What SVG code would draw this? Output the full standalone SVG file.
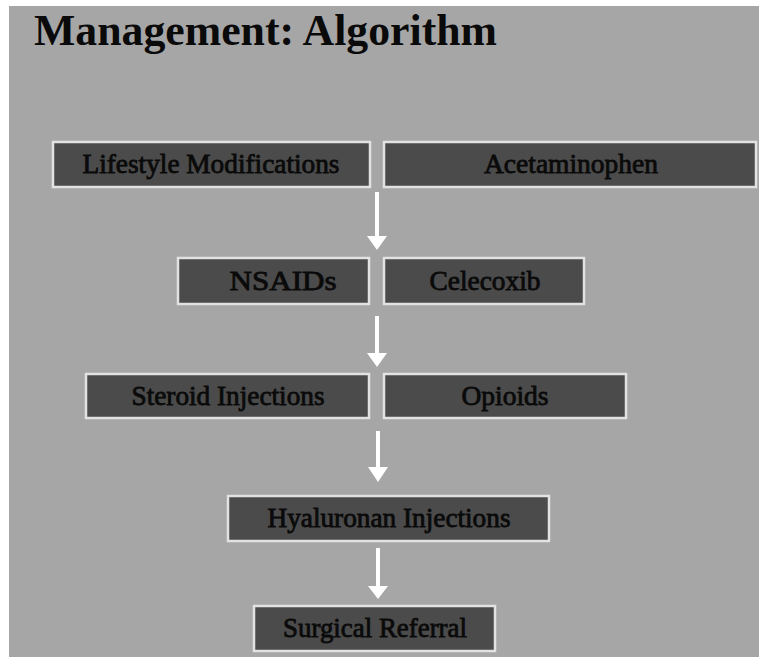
<svg xmlns="http://www.w3.org/2000/svg" width="759" height="657" viewBox="0 0 759 657">
<style>
.box{fill:#4b4b4b;stroke:#e2e2e2;stroke-width:2.5}
.lbl{font-family:"Liberation Serif","Times New Roman",serif;font-size:27px;fill:#0a0a0a;stroke:#0a0a0a;stroke-width:0.8;text-anchor:middle}
.arr{stroke:#ffffff;stroke-width:4;fill:none}
.head{fill:#ffffff}
</style>
<rect x="0" y="0" width="759" height="657" fill="#ffffff"/>
<rect x="9" y="6" width="750" height="651" fill="#a6a6a6"/>
<text x="34" y="45" font-family="'Liberation Serif','Times New Roman',serif" font-size="44" font-weight="bold" fill="#0a0a0a" textLength="463" lengthAdjust="spacingAndGlyphs">Management: Algorithm</text>
<g id="connectors">
<line class="arr" x1="377" y1="192" x2="377" y2="238"/>
<polygon class="head" points="367,236 387,236 377,250"/>
<line class="arr" x1="377" y1="316" x2="377" y2="355"/>
<polygon class="head" points="367,353 387,353 377,367"/>
<line class="arr" x1="378" y1="431" x2="378" y2="469"/>
<polygon class="head" points="368,467 388,467 378,482"/>
<line class="arr" x1="378" y1="548" x2="378" y2="589"/>
<polygon class="head" points="368,586 388,586 378,599"/>
</g>
<g id="lifestyle"><rect class="box" x="53" y="142" width="317" height="45"/><text class="lbl" x="211" y="173" textLength="257" lengthAdjust="spacingAndGlyphs">Lifestyle Modifications</text></g>
<g id="acetaminophen"><rect class="box" x="384" y="142" width="372" height="45"/><text class="lbl" x="571" y="173" textLength="174" lengthAdjust="spacingAndGlyphs">Acetaminophen</text></g>
<g id="nsaids"><rect class="box" x="178" y="258" width="191" height="46"/><text class="lbl" x="283" y="290" textLength="107" lengthAdjust="spacingAndGlyphs">NSAIDs</text></g>
<g id="celecoxib"><rect class="box" x="384" y="258" width="200" height="46"/><text class="lbl" x="485" y="290" textLength="111" lengthAdjust="spacingAndGlyphs">Celecoxib</text></g>
<g id="steroid"><rect class="box" x="86" y="374" width="283" height="44"/><text class="lbl" x="228" y="405" textLength="193" lengthAdjust="spacingAndGlyphs">Steroid Injections</text></g>
<g id="opioids"><rect class="box" x="384" y="374" width="242" height="44"/><text class="lbl" x="505" y="405" textLength="87" lengthAdjust="spacingAndGlyphs">Opioids</text></g>
<g id="hyaluronan"><rect class="box" x="228" y="496" width="321" height="45"/><text class="lbl" x="389" y="527" textLength="243" lengthAdjust="spacingAndGlyphs">Hyaluronan Injections</text></g>
<g id="surgical"><rect class="box" x="254" y="606" width="241" height="45"/><text class="lbl" x="375" y="637" textLength="184" lengthAdjust="spacingAndGlyphs">Surgical Referral</text></g>
</svg>
